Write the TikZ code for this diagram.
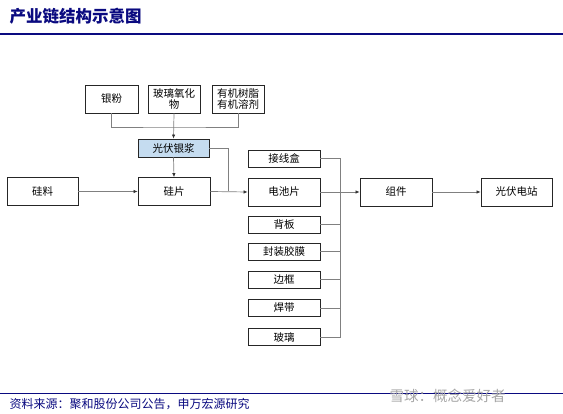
\documentclass[tikz,border=0pt]{standalone}
\usepackage{fontspec}
\setmainfont{Noto Sans CJK SC}
\usepackage{tikz}
\usetikzlibrary{arrows.meta}
\definecolor{navy}{RGB}{10,10,128}
\definecolor{paste}{RGB}{197,220,240}

\begin{document}
\begin{tikzpicture}[x=1pt,y=-1pt,font=\fontsize{10.5}{11.5}\selectfont,
box/.style={draw=black!85,line width=0.8pt,inner sep=0pt,minimum width=72pt,minimum height=28pt,align=center},
thin/.style={box,minimum height=17pt},
link/.style={draw=black!50,line width=0.7pt},
arr/.style={link,-{Latex[length=4pt,width=3.5pt,black!80]}}]
\useasboundingbox (0,0) rectangle (563,414);

% header and footer
\node [anchor=west,text=navy,font=\fontsize{16.5}{18}\selectfont\bfseries] (title) at (6,16) {产业链结构示意图};
\draw [navy,line width=2pt] (0,34.5) -- (563,34.5);
\draw [navy,line width=1.3pt] (0,393.5) -- (563,393.5);
\node [anchor=west,text=navy,font=\fontsize{12}{13}\selectfont] (src) at (6,404) {资料来源：聚和股份公司公告，申万宏源研究};
\node [anchor=west,text=black!35,font=\fontsize{14.5}{15}\selectfont] (wm) at (386,396) {雪球：概念爱好者};

% raw materials of the paste
\node [box,minimum width=53pt] (yf) at (111.5,99) {银粉};
\node [box,minimum width=52pt] (blhw) at (174,99) {玻璃氧化\\物};
\node [box,minimum width=52pt] (yjsz) at (238,99) {有机树脂\\有机溶剂};
\node [box,minimum width=71pt,minimum height=18pt,fill=paste] (gfyj) at (173.5,148) {光伏银浆};

% main chain
\node [box,minimum width=71pt] (gl) at (42.5,191.5) {硅料};
\node [box] (gp) at (174,191.5) {硅片};
\node [box] (dcp) at (284,192) {电池片};
\node [box] (zj) at (396,192) {组件};
\node [box,minimum width=71pt] (gfdz) at (516.5,192) {光伏电站};

% module parts
\node [thin] (jxh) at (284,158.5) {接线盒};
\node [thin] (bb) at (284,224.5) {背板};
\node [thin] (fzjm) at (284,251.5) {封装胶膜};
\node [thin] (bk) at (284,279.5) {边框};
\node [thin] (hd) at (284,308) {焊带};
\node [thin] (bl) at (284,337) {玻璃};

\coordinate (hub) at (174,127);
\coordinate (join) at (228,191.5);
\coordinate (bustop) at (340,158.5);
\coordinate (busbot) at (340,337);

\draw [link] (yf.south) |- (hub) -| (yjsz.south);
\draw [arr] (blhw.south) -- (gfyj.north);
\draw [arr] (gfyj.south) -- (gp.north);
\draw [link] (gfyj.east) -| (join);
\draw [arr] (gl.east) -- (gp.west);
\draw [arr] (gp.east) -- (dcp.west);

\draw [link] (jxh.east) -- (bustop) -- (busbot) -- (bl.east);
\foreach \p in {bb,fzjm,bk,hd} {
  \draw [link] (\p.east) -- (\p.east -| bustop);
}
\draw [arr] (dcp.east) -- (zj.west);
\draw [arr] (zj.east) -- (gfdz.west);
\end{tikzpicture}
\end{document}
